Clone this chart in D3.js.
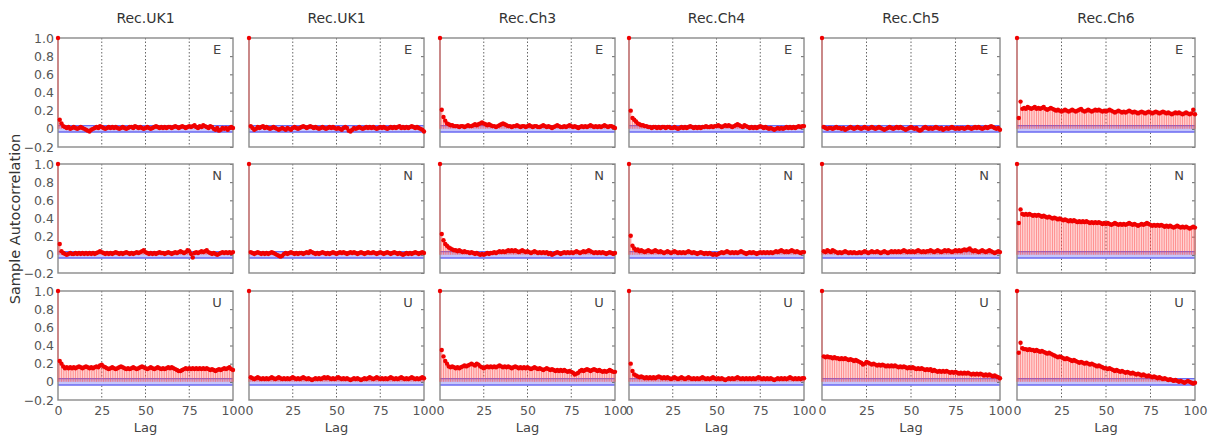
<!DOCTYPE html>
<html><head><meta charset="utf-8">
<script src="https://cdn.jsdelivr.net/npm/d3@7"></script>
<style>body{margin:0;background:#fff}svg{display:block}</style>
</head><body>
<svg id="c" width="1210" height="435"></svg>
<script>
const columnTitles = ["Rec.UK1","Rec.UK1","Rec.Ch3","Rec.Ch4","Rec.Ch5","Rec.Ch6"];
const componentLabels = ["E","N","U"];
const xTickValues = [0,25,50,75,100];
const yTickValues = [-0.2,0,0.2,0.4,0.6,0.8,1.0];
const confBound = 0.035;

// ACF values, lag 0..100
const E_UK1a = [1,.10,.06,.03,.02,.01,.02,0,.01,.02,
.01,0,.01,.02,.01,0,-.01,-.02,-.03,-.01,
0,.01,.02,.01,.03,.02,.01,0,.01,.02,
.01,.02,.01,.02,.01,0,.01,.02,.01,0,
.01,.02,.02,.01,.03,.02,.01,.02,.01,0,
.01,.02,.01,0,.01,.02,.03,.02,.01,.02,
.01,.02,.01,.02,.02,.01,.02,.03,.02,.01,
.02,.03,.02,.01,.02,.03,.02,.03,.04,.02,
.01,.03,.02,.04,.03,.02,.01,.03,.02,0,
-.01,.01,-.02,-.01,.01,0,.01,-.01,.01,.02,
.01];
const E_UK1b = [1,.03,.01,-.01,0,.02,.01,.02,.03,.01,
.02,.01,0,.01,.02,.01,0,-.01,0,.01,
0,-.01,.01,0,-.01,.01,.02,.01,0,.01,
.02,.03,.02,.01,.02,.03,.02,.01,.02,.01,
0,.01,.02,.01,0,.01,.02,.01,.02,.01,
0,.01,0,-.01,.01,.02,.01,-.02,-.03,-.01,
.01,0,.01,.02,.01,0,.01,.02,.01,.02,
.01,.02,.01,0,.01,.02,.01,.02,.01,0,
.01,.02,.01,.02,.01,.02,.03,.01,.02,.01,
.02,.01,.02,.03,.02,.01,.02,.01,0,-.01,
-.03];
const E_Ch3 = [1,.21,.13,.09,.06,.05,.04,.04,.03,.03,
.03,.02,.03,.03,.02,.03,.04,.03,.03,.04,
.05,.04,.05,.06,.07,.06,.05,.04,.05,.04,
.03,.03,.02,.03,.04,.05,.06,.05,.04,.03,
.03,.02,.03,.03,.04,.03,.02,.03,.03,.02,
.03,.04,.03,.02,.03,.03,.02,.02,.03,.04,
.03,.02,.03,.02,.01,.02,.03,.04,.03,.02,
.02,.03,.02,.03,.04,.03,.02,.03,.02,.01,
.02,.03,.02,.03,.02,.03,.04,.03,.02,.03,
.02,.03,.02,.03,.04,.03,.02,.03,.03,.02,
.01];
const E_Ch4 = [1,.20,.12,.10,.08,.06,.05,.04,.04,.03,
.03,.02,.02,.01,.02,.02,.01,.02,.01,.02,
.02,.01,.02,.02,.01,.01,.02,.01,0,.01,
.02,.01,.02,.01,.02,.03,.02,.01,.02,.01,
.02,.01,.02,.02,.03,.02,.02,.03,.02,.03,
.03,.04,.03,.02,.03,.04,.03,.04,.03,.02,
.03,.04,.05,.04,.03,.02,.04,.03,.02,.01,
.02,.01,.02,.01,.02,.03,.02,.01,.02,.01,
0,.01,0,-.01,0,.01,0,.01,0,.01,
.02,.01,.02,.01,.02,.01,.02,.03,.02,.03,
.03];
const E_Ch5 = [1,.02,.01,0,.01,.01,0,.01,.02,.01,
.01,0,.01,-.01,0,.01,.02,.01,0,.01,
.02,.01,0,.01,.02,.01,0,.01,.02,.01,
0,.01,.02,.01,0,-.01,0,.01,.02,.01,
0,.01,.02,.01,.02,.01,0,-.01,0,.01,
.02,.01,0,.01,-.01,-.02,-.01,.01,.02,.01,
0,.01,0,.01,.02,.01,0,.01,-.01,0,
.01,0,.01,.02,.01,0,.01,0,.01,.01,
0,.01,.02,.01,0,.01,.02,.01,.02,.01,
0,.01,.02,.01,.02,.03,.02,.01,0,.01,
-.01];
const E_Ch6 = [1,.12,.30,.22,.23,.22,.24,.23,.22,.23,
.24,.22,.23,.22,.23,.24,.22,.21,.22,.23,
.22,.21,.20,.21,.20,.19,.20,.21,.20,.19,
.20,.21,.20,.19,.20,.21,.22,.20,.19,.20,
.21,.20,.19,.20,.21,.20,.21,.20,.19,.20,
.19,.20,.21,.20,.19,.18,.19,.20,.19,.18,
.19,.18,.19,.20,.19,.18,.19,.18,.17,.18,
.19,.18,.17,.18,.19,.18,.17,.18,.19,.18,
.17,.18,.19,.18,.17,.18,.17,.16,.17,.18,
.17,.18,.17,.16,.17,.18,.17,.16,.17,.21,
.16];
const N_UK1a = [1,.12,.04,.02,.01,0,.01,.02,.01,.01,
.02,.01,.02,.01,.02,.01,.02,.01,.02,.01,
.02,.01,.02,.03,.04,.03,.02,.01,.02,.01,
.02,.01,.02,.03,.02,.01,.02,.01,.02,.03,
.02,.01,.02,.01,.02,.03,.02,.03,.04,.05,
.03,.02,.01,.02,.01,.02,.01,.02,.03,.02,
.02,.01,.02,.03,.02,.01,.02,.03,.02,.03,
.04,.03,.02,.03,.05,.04,.01,-.03,.02,.03,
.02,.03,.04,.03,.04,.05,.03,.02,.01,.02,
.01,0,.01,.02,.03,.02,.03,.02,.03,.02,
.03];
const N_UK1b = [1,.03,.02,.01,.02,.03,.02,.01,.02,.01,
.02,.01,.02,.03,.02,.01,0,-.01,-.02,-.01,
.01,.02,.01,.02,.03,.02,.01,.02,.01,.02,
.02,.01,.02,.03,.02,.04,.03,.02,.01,.02,
.01,.02,.03,.02,.01,.02,.01,.02,.03,.02,
.01,.02,.03,.02,.03,.02,.01,.02,.03,.02,
.03,.02,.01,.02,.03,.02,.01,.02,.03,.02,
.02,.03,.02,.01,.02,.03,.02,.01,.02,.03,
.02,.01,.02,.03,.02,.01,.02,.01,0,.01,
.02,.01,.02,.01,.02,.03,.02,.01,.02,.03,
.02];
const N_Ch3 = [1,.23,.16,.12,.10,.08,.07,.06,.05,.05,
.04,.05,.04,.03,.04,.03,.03,.02,.03,.02,
.01,.02,.01,0,.01,0,.01,.02,.01,.02,
.02,.03,.02,.03,.04,.03,.04,.03,.04,.05,
.04,.05,.04,.05,.04,.03,.04,.05,.04,.03,
.04,.03,.02,.03,.04,.03,.02,.03,.02,.03,
.02,.03,.01,.02,0,.01,.02,.03,.02,.01,
.02,.03,.02,.03,.02,.03,.02,.03,.04,.03,
.02,.03,.04,.03,.04,.05,.04,.03,.02,.03,
.02,.03,.02,.03,.02,.01,.02,.03,.02,.01,
.02];
const N_Ch4 = [1,.21,.10,.07,.05,.06,.04,.05,.04,.03,
.04,.05,.04,.03,.04,.05,.04,.03,.04,.03,
.02,.03,.04,.03,.02,.03,.04,.03,.02,.03,
.02,.03,.02,.03,.04,.03,.02,.03,.02,.01,
.02,.03,.02,.01,.02,.01,.02,.01,0,.01,
0,.01,.02,.03,.02,.03,.04,.03,.02,.03,
.02,.03,.02,.03,.04,.03,.02,.01,.02,.03,
.02,.03,.02,.01,.02,.03,.02,.03,.02,.03,
.02,.03,.02,.03,.04,.03,.04,.05,.04,.03,
.04,.03,.04,.05,.04,.03,.04,.03,.02,.03,
.03];
const N_Ch5 = [1,.04,.03,.05,.04,.03,.05,.04,.03,.02,
.03,.02,.03,.04,.03,.02,.03,.02,.03,.02,
.02,.03,.02,.03,.04,.03,.02,.03,.04,.03,
.03,.04,.03,.02,.03,.04,.03,.02,.03,.04,
.03,.04,.03,.04,.03,.04,.05,.04,.03,.04,
.03,.04,.03,.04,.05,.04,.03,.04,.03,.04,
.04,.05,.04,.03,.04,.05,.04,.03,.04,.05,
.04,.05,.04,.03,.04,.05,.04,.05,.04,.05,
.06,.05,.06,.07,.05,.04,.05,.04,.03,.04,
.05,.04,.03,.04,.05,.04,.03,.02,.03,.04,
.03];
const N_Ch6 = [1,.35,.50,.45,.44,.45,.44,.45,.44,.43,
.44,.43,.44,.43,.42,.43,.42,.41,.42,.41,
.40,.41,.40,.39,.40,.39,.38,.39,.38,.37,
.38,.37,.38,.37,.36,.37,.36,.37,.36,.37,
.36,.35,.36,.35,.36,.35,.36,.35,.34,.35,
.34,.35,.34,.33,.34,.35,.34,.33,.34,.33,
.34,.33,.34,.35,.34,.33,.34,.33,.32,.33,
.34,.33,.34,.35,.34,.33,.32,.33,.32,.33,
.32,.33,.32,.31,.32,.31,.32,.31,.30,.31,
.32,.31,.30,.31,.30,.31,.30,.29,.30,.31,
.30];
const U_UK1a = [1,.23,.20,.17,.15,.16,.15,.16,.15,.16,
.15,.16,.17,.16,.15,.16,.17,.16,.15,.16,
.15,.16,.17,.16,.18,.19,.17,.16,.15,.14,
.15,.16,.15,.14,.15,.16,.17,.16,.15,.14,
.15,.14,.15,.16,.15,.14,.15,.16,.17,.16,
.15,.14,.15,.16,.15,.14,.15,.16,.15,.14,
.15,.14,.15,.16,.15,.16,.15,.14,.13,.12,
.12,.13,.14,.15,.14,.15,.14,.15,.14,.15,
.14,.15,.14,.15,.14,.15,.14,.13,.14,.13,
.12,.13,.14,.13,.14,.15,.14,.15,.16,.14,
.13];
const U_UK1b = [1,.05,.04,.03,.04,.05,.04,.03,.04,.03,
.04,.03,.04,.05,.04,.03,.04,.05,.04,.03,
.04,.03,.04,.03,.04,.05,.04,.03,.04,.03,
.04,.05,.04,.03,.04,.03,.02,.03,.04,.03,
.04,.03,.04,.05,.04,.05,.04,.03,.04,.03,
.04,.05,.04,.03,.04,.03,.04,.03,.02,.03,
.04,.03,.04,.03,.02,.03,.04,.03,.04,.05,
.04,.03,.04,.05,.04,.03,.04,.03,.04,.03,
.04,.05,.04,.03,.04,.03,.04,.05,.04,.03,
.04,.03,.04,.05,.04,.03,.04,.03,.04,.05,
.04];
const U_Ch3 = [1,.35,.28,.23,.20,.17,.16,.17,.16,.15,
.16,.15,.16,.17,.18,.17,.18,.19,.20,.19,
.18,.20,.19,.17,.16,.15,.16,.17,.16,.17,
.16,.17,.16,.17,.18,.17,.16,.17,.16,.17,
.16,.15,.16,.17,.16,.15,.16,.15,.16,.15,
.16,.15,.14,.15,.16,.15,.14,.15,.14,.13,
.14,.15,.14,.13,.14,.13,.12,.13,.12,.13,
.12,.13,.12,.11,.12,.11,.10,.08,.09,.10,
.12,.13,.12,.13,.14,.13,.12,.13,.14,.13,
.12,.13,.12,.11,.12,.11,.12,.13,.12,.11,
.11];
const U_Ch4 = [1,.20,.12,.08,.07,.06,.05,.06,.05,.04,
.05,.04,.05,.04,.05,.04,.05,.06,.05,.04,
.05,.04,.05,.04,.03,.04,.05,.04,.03,.04,
.05,.04,.03,.04,.05,.04,.03,.04,.03,.04,
.03,.04,.05,.04,.03,.04,.03,.04,.05,.04,
.03,.04,.03,.04,.03,.02,.03,.04,.03,.04,
.03,.04,.05,.04,.03,.04,.03,.04,.03,.04,
.03,.04,.03,.04,.05,.04,.03,.04,.03,.04,
.03,.04,.03,.02,.03,.04,.03,.04,.03,.04,
.03,.04,.05,.04,.03,.04,.03,.04,.03,.04,
.04];
const U_Ch5 = [1,.28,.27,.28,.27,.27,.26,.27,.26,.26,
.25,.26,.25,.26,.25,.24,.25,.24,.23,.24,
.23,.22,.21,.19,.20,.22,.21,.20,.19,.20,
.19,.18,.19,.18,.19,.18,.17,.18,.17,.18,
.17,.18,.17,.16,.17,.16,.17,.16,.15,.16,
.15,.16,.15,.14,.15,.14,.15,.14,.13,.14,
.13,.14,.12,.13,.12,.11,.12,.11,.12,.11,
.12,.11,.10,.11,.10,.11,.10,.09,.10,.09,
.10,.09,.10,.09,.08,.09,.08,.09,.08,.09,
.08,.07,.08,.07,.08,.07,.06,.07,.06,.05,
.04];
const U_Ch6 = [1,.32,.43,.37,.36,.36,.35,.36,.35,.35,
.34,.35,.34,.33,.34,.33,.32,.31,.32,.31,
.30,.29,.28,.27,.28,.27,.26,.25,.26,.25,
.24,.23,.24,.23,.22,.21,.22,.21,.20,.21,
.20,.19,.20,.19,.18,.17,.18,.17,.16,.15,
.15,.14,.15,.14,.13,.12,.13,.12,.11,.12,
.11,.10,.11,.10,.09,.10,.09,.08,.09,.08,
.07,.08,.07,.06,.07,.06,.05,.06,.05,.04,
.05,.04,.03,.04,.03,.02,.03,.02,.01,.02,
.01,0,.01,0,-.01,0,.01,0,-.01,-.02,
-.01];

const panelData = [
  [E_UK1a, E_UK1b, E_Ch3, E_Ch4, E_Ch5, E_Ch6],
  [N_UK1a, N_UK1b, N_Ch3, N_Ch4, N_Ch5, N_Ch6],
  [U_UK1a, U_UK1b, U_Ch3, U_Ch4, U_Ch5, U_Ch6]
];

// layout
const colLeft = [58, 249, 440, 629, 822, 1017];
const colWidth = [175, 175, 175, 175, 178, 178];
const rowTop = [38, 164, 291];
const rowH = 109;
const FONT = "'DejaVu Sans', Verdana, sans-serif";

const svg = d3.select("#c");
const fmt = d => d === 0 ? "0" : d3.format(".1f")(d);

panelData.forEach((row, ri) => {
  row.forEach((vals, ci) => {
    const x = d3.scaleLinear().domain([0,100]).range([colLeft[ci], colLeft[ci] + colWidth[ci]]);
    const y = d3.scaleLinear().domain([-0.2,1.0]).range([rowTop[ri] + rowH, rowTop[ri]]);
    const g = svg.append("g");

    // grid lines
    g.selectAll("line.grid").data([25,50,75]).join("line")
      .attr("x1", d => x(d)).attr("x2", d => x(d))
      .attr("y1", y(1)).attr("y2", y(-0.2))
      .attr("stroke", "#555").attr("stroke-width", 0.9).attr("stroke-dasharray", "1.5,2");

    // confidence band
    g.append("rect")
      .attr("x", x(0)).attr("width", x(100) - x(0))
      .attr("y", y(confBound)).attr("height", y(-confBound) - y(confBound))
      .attr("fill", "#c6c6fa");
    g.selectAll("line.cb").data([confBound, -confBound]).join("line")
      .attr("x1", x(0)).attr("x2", x(100))
      .attr("y1", d => y(d)).attr("y2", d => y(d))
      .attr("stroke", "#6a6af2").attr("stroke-width", 1.4);

    // inner ticks on right edge
    const tr = d3.axisLeft(y).tickValues(yTickValues).tickSize(3).tickFormat("");
    const gr = g.append("g").attr("transform", `translate(${x(100)},0)`).call(tr);
    gr.select(".domain").remove();
    gr.selectAll("line").attr("stroke", "#666");

    // frame
    g.append("rect")
      .attr("x", x(0)).attr("y", y(1))
      .attr("width", x(100) - x(0)).attr("height", y(-0.2) - y(1))
      .attr("fill", "none").attr("stroke", "#8a8a8a").attr("stroke-width", 1.4);

    // stems
    g.selectAll("line.stem").data(vals).join("line")
      .attr("x1", (d,i) => x(i)).attr("x2", (d,i) => x(i))
      .attr("y1", y(0)).attr("y2", d => y(d))
      .attr("stroke", "#ff4a4a").attr("stroke-opacity", 0.6).attr("stroke-width", 1.2);

    // markers
    g.selectAll("circle").data(vals).join("circle")
      .attr("cx", (d,i) => x(i)).attr("cy", d => y(d)).attr("r", 2.2)
      .attr("fill", "#f00000");

    // component label
    g.append("text")
      .attr("x", x(100) - 16).attr("y", y(1) + 16)
      .attr("text-anchor", "middle")
      .attr("font-family", FONT).attr("font-size", 13).attr("fill", "#444")
      .text(componentLabels[ri]);

    // y tick labels, leftmost column
    if (ci === 0) {
      const ya = d3.axisLeft(y).tickValues(yTickValues).tickSize(0).tickPadding(4).tickFormat(fmt);
      const gy = g.append("g").attr("transform", `translate(${x(0)},0)`).call(ya);
      gy.select(".domain").remove();
      gy.selectAll("text").attr("font-family", FONT).attr("font-size", 12.5).attr("fill", "#555");
    }
    // x tick labels, bottom row
    if (ri === 2) {
      const xa = d3.axisBottom(x).tickValues(xTickValues).tickSize(0).tickPadding(6).tickFormat(d3.format("d"));
      const gx = g.append("g").attr("transform", `translate(0,${y(-0.2)})`).call(xa);
      gx.select(".domain").remove();
      gx.selectAll("text").attr("font-family", FONT).attr("font-size", 12.5).attr("fill", "#555");
      g.append("text")
        .attr("x", (x(0) + x(100)) / 2).attr("y", y(-0.2) + 32)
        .attr("text-anchor", "middle")
        .attr("font-family", FONT).attr("font-size", 13).attr("fill", "#444")
        .text("Lag");
    }
    // titles, top row
    if (ri === 0) {
      g.append("text")
        .attr("x", (x(0) + x(100)) / 2).attr("y", 23)
        .attr("text-anchor", "middle")
        .attr("font-family", FONT).attr("font-size", 14).attr("fill", "#333")
        .text(columnTitles[ci]);
    }
  });
});

svg.append("text")
  .attr("transform", `translate(20,${(rowTop[0] + rowTop[2] + rowH) / 2}) rotate(-90)`)
  .attr("text-anchor", "middle")
  .attr("font-family", FONT).attr("font-size", 14.5).attr("fill", "#333")
  .text("Sample Autocorrelation");
</script>
</body></html>
